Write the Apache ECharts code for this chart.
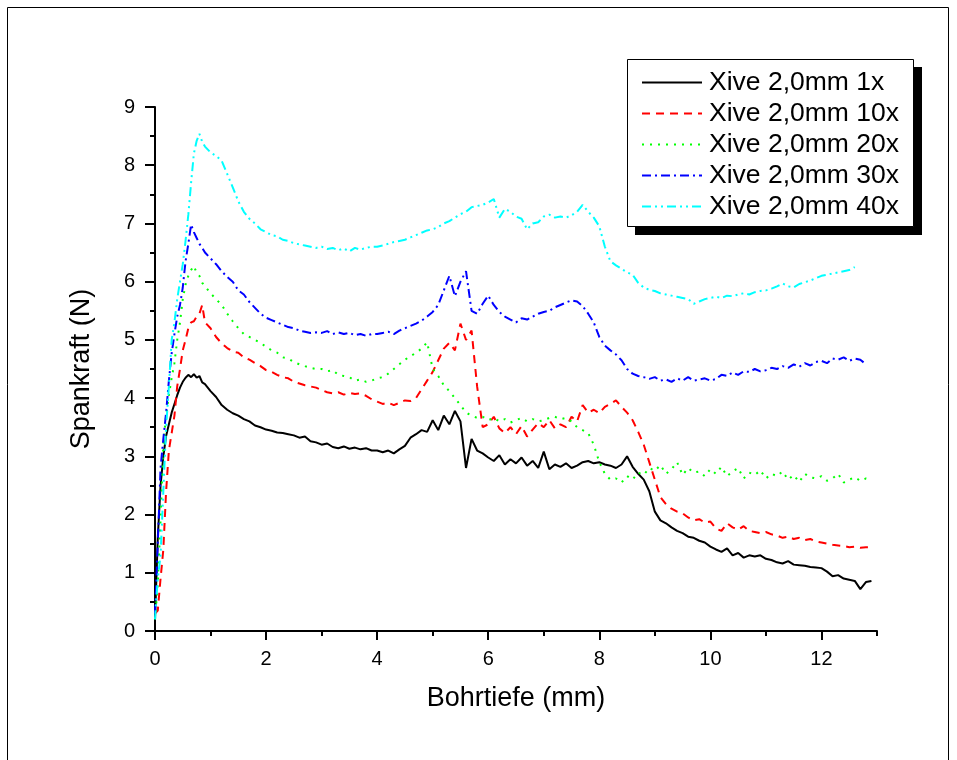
<!DOCTYPE html>
<html>
<head>
<meta charset="utf-8">
<script src="https://cdn.jsdelivr.net/npm/echarts@6/dist/echarts.min.js"></script>
<style>html,body{margin:0;padding:0;background:#fff}#c{width:957px;height:760px}</style>
</head>
<body>
<div id="c"></div>
<script>
const depth = [0,0.05,0.1,0.15,0.2,0.25,0.3,0.35,0.4,0.45,0.5,0.55,0.6,0.65,0.7,0.75,0.8,0.85,0.9,
1,1.1,1.2,1.3,1.4,1.5,1.6,1.7,1.8,1.9,
2,2.1,2.2,2.3,2.4,2.5,2.6,2.7,2.8,2.9,
3,3.1,3.2,3.3,3.4,3.5,3.6,3.7,3.8,3.9,
4,4.1,4.2,4.3,4.4,4.5,4.6,4.7,4.8,4.9,
5,5.1,5.2,5.3,5.4,5.5,5.6,5.7,5.8,5.9,
6,6.1,6.2,6.3,6.4,6.5,6.6,6.7,6.8,6.9,
7,7.1,7.2,7.3,7.4,7.5,7.6,7.7,7.8,7.9,
8,8.1,8.2,8.3,8.4,8.5,8.6,8.7,8.8,8.9,
9,9.1,9.2,9.3,9.4,9.5,9.6,9.7,9.8,9.9,
10,10.1,10.2,10.3,10.4,10.5,10.6,10.7,10.8,10.9,
11,11.1,11.2,11.3,11.4,11.5,11.6,11.7,11.8,11.9,
12,12.1,12.2,12.3,12.4,12.5,12.6,12.7,12.8,12.9];

const names = ['Xive 2,0mm 1x','Xive 2,0mm 10x','Xive 2,0mm 20x','Xive 2,0mm 30x','Xive 2,0mm 40x'];

const force1x = [0.2,1.6,2.5,3.0,3.35,3.55,3.75,3.9,4.05,4.18,4.28,4.35,4.4,4.36,4.41,4.35,4.38,4.27,4.24,
4.12,4.02,3.88,3.8,3.74,3.7,3.64,3.6,3.53,3.5,
3.46,3.44,3.41,3.4,3.38,3.36,3.32,3.34,3.26,3.24,
3.2,3.22,3.16,3.14,3.17,3.13,3.15,3.12,3.14,3.1,
3.1,3.07,3.1,3.05,3.12,3.18,3.32,3.38,3.45,3.42,
3.62,3.45,3.7,3.55,3.78,3.6,2.8,3.3,3.1,3.05,
2.98,2.92,3.02,2.86,2.95,2.88,2.98,2.84,2.92,2.8,
3.08,2.78,2.86,2.82,2.88,2.8,2.84,2.9,2.92,2.88,
2.9,2.86,2.84,2.8,2.86,3.0,2.82,2.7,2.6,2.4,
2.05,1.9,1.85,1.78,1.72,1.68,1.62,1.6,1.55,1.52,
1.45,1.4,1.36,1.42,1.3,1.34,1.26,1.3,1.28,1.3,
1.24,1.22,1.18,1.16,1.2,1.14,1.13,1.12,1.1,1.09,
1.08,1.02,0.94,0.96,0.9,0.88,0.86,0.72,0.84,0.86];

const force10x = [0.3,0.35,0.9,1.4,2.4,3.1,3.4,3.7,4.2,4.5,4.82,5.0,5.2,5.3,5.32,5.4,5.45,5.6,5.3,
5.2,5.05,4.94,4.86,4.8,4.78,4.7,4.66,4.6,4.55,
4.48,4.45,4.4,4.36,4.34,4.28,4.25,4.22,4.2,4.18,
4.14,4.1,4.08,4.1,4.06,4.09,4.07,4.08,4.04,3.98,
3.94,3.9,3.92,3.88,3.92,3.96,3.95,4.0,4.15,4.3,
4.45,4.65,4.85,4.95,4.82,5.28,5.0,5.16,4.2,3.5,
3.55,3.68,3.48,3.4,3.5,3.38,3.52,3.34,3.46,3.57,
3.5,3.62,3.48,3.55,3.5,3.68,3.6,3.88,3.75,3.8,
3.74,3.85,3.9,3.96,3.85,3.75,3.62,3.42,3.2,2.9,
2.6,2.3,2.18,2.1,2.05,2.02,1.95,1.9,1.92,1.86,
1.88,1.76,1.72,1.85,1.78,1.74,1.8,1.72,1.7,1.68,
1.7,1.66,1.64,1.6,1.62,1.58,1.6,1.56,1.58,1.54,
1.52,1.5,1.48,1.47,1.46,1.44,1.45,1.43,1.44,1.44];

const force20x = [0.2,0.8,1.9,3.2,3.7,4.05,4.35,4.6,5.0,5.3,5.7,5.95,6.1,6.2,6.27,6.15,6.1,5.98,5.92,
5.8,5.7,5.6,5.45,5.32,5.2,5.1,5.05,5.0,4.95,
4.88,4.82,4.78,4.7,4.68,4.62,4.58,4.55,4.52,4.5,
4.5,4.46,4.48,4.4,4.38,4.36,4.3,4.32,4.28,4.3,
4.34,4.36,4.42,4.5,4.58,4.66,4.72,4.78,4.85,4.96,
4.5,4.38,4.22,4.12,4.0,3.88,3.75,3.7,3.66,3.68,
3.62,3.66,3.6,3.64,3.58,3.62,3.66,3.6,3.64,3.6,
3.62,3.66,3.68,3.64,3.66,3.6,3.5,3.45,3.4,3.2,
2.9,2.7,2.6,2.62,2.55,2.66,2.6,2.72,2.68,2.8,
2.75,2.85,2.7,2.78,2.9,2.68,2.8,2.72,2.74,2.66,
2.78,2.7,2.82,2.66,2.74,2.8,2.62,2.72,2.68,2.76,
2.62,2.7,2.66,2.74,2.6,2.68,2.56,2.7,2.64,2.62,
2.66,2.58,2.62,2.7,2.55,2.6,2.64,2.58,2.62,2.6];

const force30x = [0.3,1.5,2.8,3.3,3.75,4.3,4.77,5.1,5.4,5.6,5.9,6.35,6.65,6.98,6.85,6.75,6.65,6.58,6.5,
6.4,6.3,6.18,6.08,6.0,5.85,5.78,5.65,5.55,5.45,
5.38,5.34,5.3,5.26,5.22,5.2,5.16,5.14,5.12,5.13,
5.12,5.15,5.1,5.13,5.1,5.12,5.08,5.1,5.07,5.1,
5.1,5.12,5.14,5.1,5.16,5.2,5.24,5.28,5.33,5.4,
5.48,5.6,5.85,6.1,5.75,6.0,6.18,5.5,5.45,5.62,
5.76,5.6,5.48,5.4,5.35,5.3,5.37,5.35,5.4,5.45,
5.48,5.5,5.56,5.6,5.64,5.68,5.66,5.58,5.45,5.3,
5.05,4.9,4.82,4.75,4.65,4.5,4.42,4.38,4.36,4.33,
4.36,4.3,4.32,4.28,4.34,4.3,4.36,4.3,4.32,4.34,
4.3,4.33,4.4,4.38,4.44,4.4,4.46,4.45,4.5,4.46,
4.48,4.52,4.5,4.55,4.52,4.58,4.54,4.6,4.56,4.62,
4.64,4.6,4.68,4.66,4.7,4.64,4.68,4.66,4.58,null];

const force40x = [0.2,0.9,1.3,2.4,3.5,4.2,5.0,5.3,5.7,6.0,6.3,6.7,7.15,7.7,8.2,8.42,8.54,8.4,8.32,
8.22,8.16,8.08,7.85,7.62,7.38,7.2,7.08,7.0,6.9,
6.85,6.8,6.78,6.72,6.7,6.66,6.64,6.62,6.6,6.58,
6.6,6.56,6.58,6.54,6.57,6.52,6.58,6.55,6.58,6.6,
6.6,6.62,6.65,6.68,6.7,6.72,6.76,6.8,6.84,6.88,
6.9,6.94,7.0,7.04,7.1,7.16,7.2,7.28,7.3,7.32,
7.36,7.42,7.1,7.25,7.2,7.12,7.08,6.9,7.0,7.02,
7.12,7.15,7.1,7.12,7.1,7.14,7.2,7.32,7.2,7.1,
6.95,6.6,6.35,6.28,6.22,6.16,6.12,5.98,5.9,5.86,
5.84,5.8,5.78,5.76,5.74,5.72,5.7,5.62,5.66,5.7,
5.72,5.74,5.72,5.76,5.75,5.78,5.8,5.78,5.82,5.84,
5.85,5.88,5.92,5.97,5.92,5.9,5.96,5.99,6.02,6.06,
6.1,6.12,6.14,6.16,6.18,6.2,6.25,null,null,null];

const xMajor = [0,2,4,6,8,10,12];
const xMinor = [1,3,5,7,9,11,13];

const FONT = '"Liberation Sans", Arial, sans-serif';
const seriesValues = [force1x, force10x, force20x, force30x, force40x];
const colors = ['#000000','#ff0000','#00ff00','#0000ff','#00ffff'];
const dashes = ['solid',[8,6],[2,6],[9,4,2,4],[9,4,2,4,2,4]];

const chart = echarts.init(document.getElementById('c'), null, {renderer:'canvas'});
const series = seriesValues.map((vals, k) => ({
  name: names[k], type: 'line', xAxisIndex: 0, yAxisIndex: 0,
  showSymbol: false, symbol: 'none', animation: false, connectNulls: false,
  lineStyle: {color: colors[k], width: 2, type: dashes[k]},
  itemStyle: {color: colors[k]},
  data: depth.map((d, i) => [d, vals[i]])
}));

chart.setOption({
  animation: false,
  backgroundColor: '#ffffff',
  grid: {left: 155, right: 80, top: 107, bottom: 129, containLabel: false},
  xAxis: [{
    type: 'value', min: 0, max: 13, interval: 1, position: 'bottom',
    name: 'Bohrtiefe (mm)', nameLocation: 'middle', nameGap: 54,
    nameTextStyle: {fontFamily: FONT, fontSize: 27, color: '#000'},
    axisLine: {show: true, lineStyle: {color: '#000', width: 2}},
    axisTick: {show: true, inside: false, length: 9, lineStyle: {color: '#000', width: 2}, customValues: xMajor},
    axisLabel: {show: true, margin: 18, fontFamily: FONT, fontSize: 20, color: '#000', customValues: xMajor},
    splitLine: {show: false}
  }, {
    type: 'value', min: 0, max: 13, interval: 1, position: 'bottom', offset: 0,
    axisLine: {show: false},
    axisTick: {show: true, inside: false, length: 5, lineStyle: {color: '#000', width: 2}, customValues: xMinor},
    axisLabel: {show: false},
    splitLine: {show: false}
  }],
  yAxis: [{
    type: 'value', min: 0, max: 9, interval: 1,
    name: 'Spankraft (N)', nameLocation: 'middle', nameGap: 60, nameRotate: 90,
    nameTextStyle: {fontFamily: FONT, fontSize: 27, color: '#000'},
    axisLine: {show: true, lineStyle: {color: '#000', width: 2}},
    axisTick: {show: true, inside: false, length: 10, lineStyle: {color: '#000', width: 2}},
    minorTick: {show: true, splitNumber: 2, length: 5, lineStyle: {color: '#000', width: 2}},
    axisLabel: {margin: 20, fontFamily: FONT, fontSize: 20, color: '#000'},
    splitLine: {show: false}, minorSplitLine: {show: false}
  }],
  legend: {
    show: true, orient: 'vertical', left: 641, top: 69, padding: 0,
    itemWidth: 60, itemHeight: 4, itemGap: 4, z: 10,
    itemStyle: {color: 'rgba(0,0,0,0)', borderWidth: 0, opacity: 0},
    textStyle: {fontFamily: FONT, fontSize: 26.5, color: '#000', lineHeight: 26, padding: [0,0,0,2]},
    data: names
  },
  graphic: {elements: [
    {type: 'rect', z: 3, shape: {x: 7.5, y: 7.5, width: 941, height: 800}, style: {fill: 'none', stroke: '#000', lineWidth: 1}},
    {type: 'rect', z: 3, shape: {x: 635, y: 67, width: 287, height: 168}, style: {fill: '#000'}},
    {type: 'rect', z: 4, shape: {x: 627.5, y: 59.5, width: 286, height: 167}, style: {fill: '#fff', stroke: '#000', lineWidth: 1}}
  ]},
  series: series
});
</script>
</body>
</html>
